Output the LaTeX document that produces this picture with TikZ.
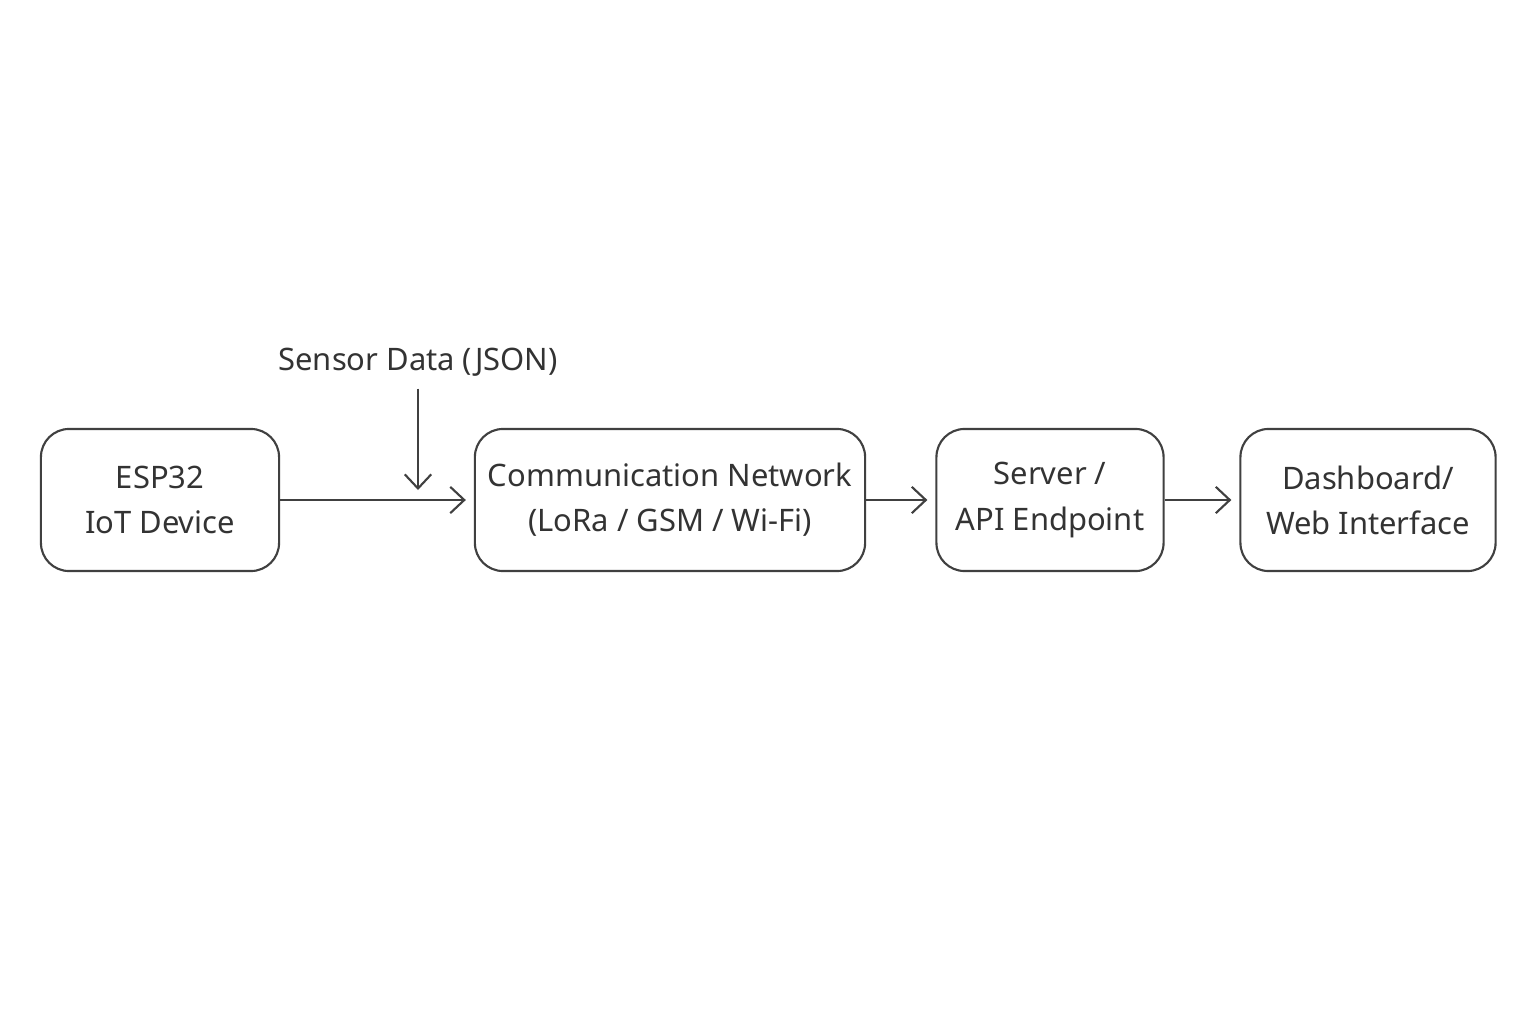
\documentclass[tikz,border=0pt]{standalone}
\usepackage{fontspec}
\setmainfont{Noto Sans}
\usetikzlibrary{arrows.meta,positioning}
\tikzset{
  block/.style={draw=black!75, rounded corners=8pt, line width=0.6pt, align=center,
    minimum height=1.42cm, inner xsep=2pt, text=black!80, font=\fontsize{8.8}{12.8}\selectfont},
  flow/.style={-{Straight Barb[length=4pt,width=7.5pt]}, line width=0.6pt, draw=black!75}
}
\begin{document}
\begin{tikzpicture}[x=0.01cm,y=-0.01cm]
    \useasboundingbox[fill=white] (0,0) rectangle (1536,1024);

    \node[block, minimum width=2.38cm] (esp) at (160,500) {ESP32\\IoT Device};
    \node[block, minimum width=3.9cm] (net) at (670,500) {Communication Network\\(LoRa / GSM / Wi-Fi)};
    \node[block, minimum width=2.27cm] (srv) at (1050,500) {Server /\\API Endpoint};
    \node[block, minimum width=2.55cm] (dash) at (1368,500) {Dashboard/\\Web Interface};

    \node[text=black!80, font=\fontsize{8.8}{12}\selectfont] (lbl) at (418,362) {Sensor Data (JSON)};
    \coordinate (tip) at (418,490);

	\draw[flow] (esp) -- ([xshift=-0.08cm]net.west);
	\draw[flow] (lbl) -- (tip);
	\draw[flow] (net) -- ([xshift=-0.08cm]srv.west);
	\draw[flow] (srv) -- ([xshift=-0.08cm]dash.west);
\end{tikzpicture}
\end{document}
